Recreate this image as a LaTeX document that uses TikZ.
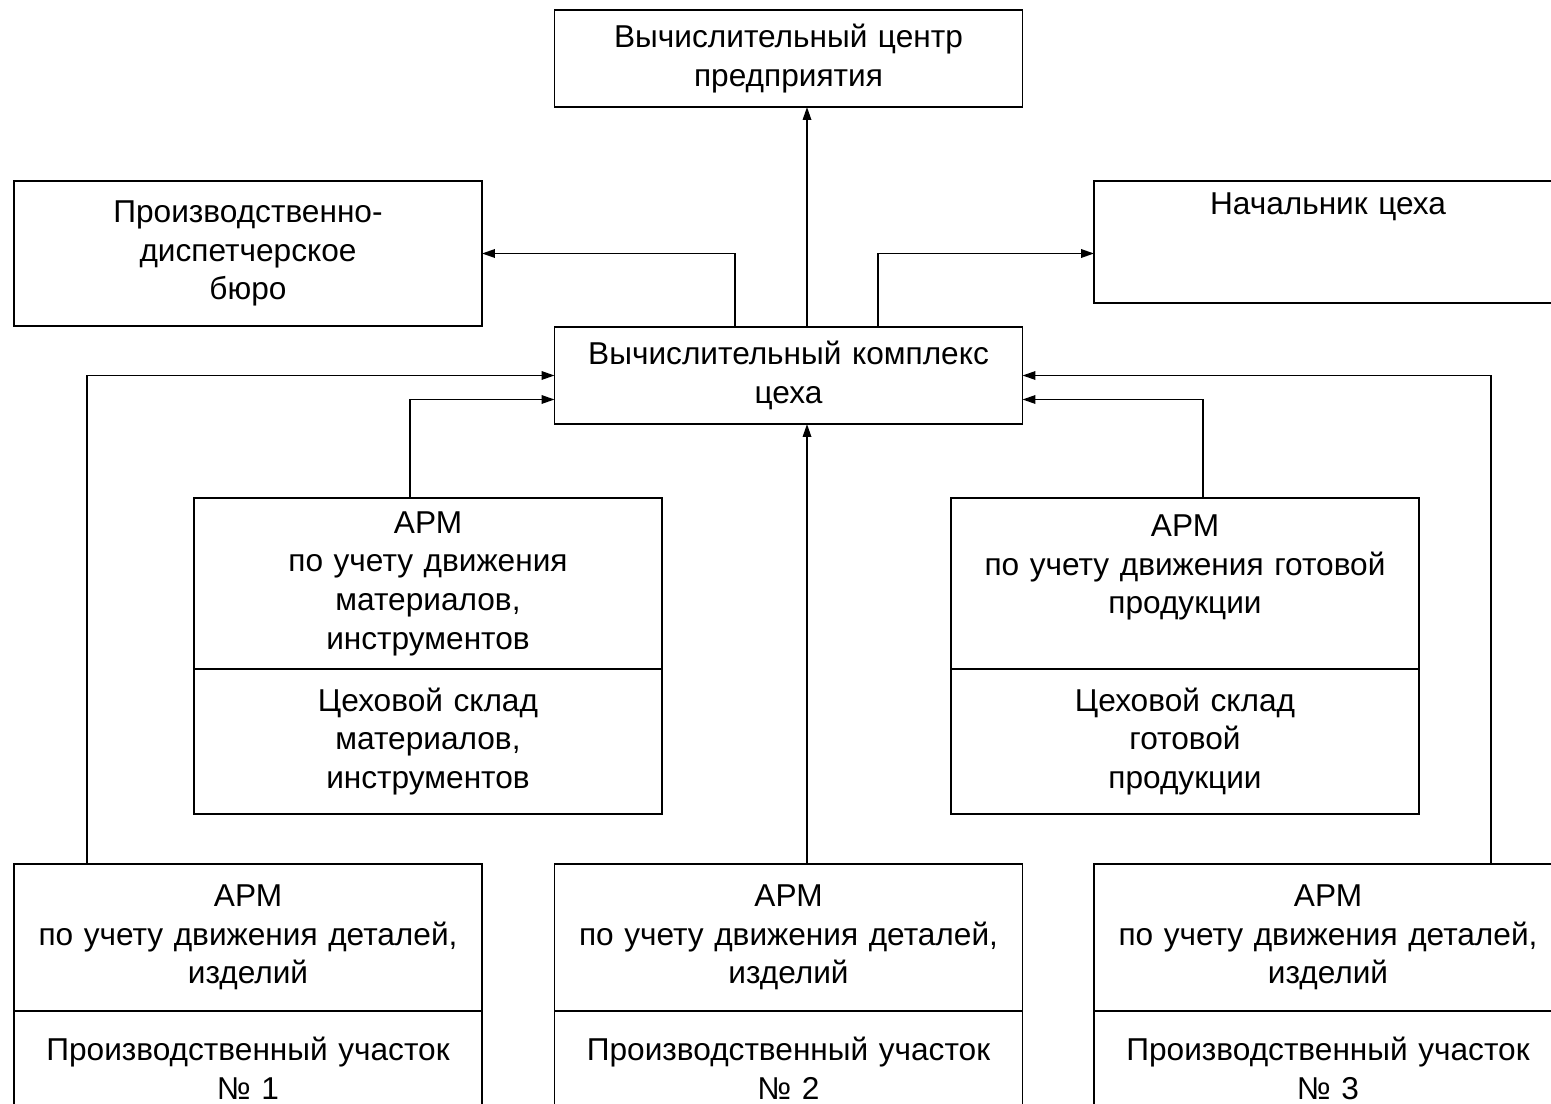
\documentclass[tikz,border=0pt]{standalone}
\usepackage{fontspec}
\setmainfont{Liberation Sans}
\usetikzlibrary{arrows.meta, positioning}
\newcommand{\boxfont}{\fontsize{18}{22}\selectfont}
\tikzset{
  box/.style={rectangle, draw=black, line width=1pt,
    text width=9.2cm, align=center, inner sep=0pt, outer sep=0pt,
    minimum width=9.36cm, font=\boxfont},
  arrow/.style={-{Triangle[length=0.26cm,width=0.17cm]}, line width=1pt},
  line/.style={line width=1pt}
}

\begin{document}
\begin{tikzpicture}[x=0.02cm, y=-0.02cm]
  \useasboundingbox (0,0) rectangle (1551,1104);
  \clip (0,0) rectangle (1551,1104);

  % upper level
  \node[box, minimum height=1.94cm] (vc) at (788.5,58.5) {Вычислительный центр\\предприятия};
  \node[box, minimum height=2.9cm] (pdb) at (248,253.5) {Производственно-\\диспетчерское\\бюро};
  \node[box, minimum height=2.44cm] (nc) at (1328,242) {Начальник цеха\\~\\~};
  \node[box, minimum height=1.94cm] (vk) at (788.5,375.5) {Вычислительный комплекс\\цеха};

  % stores
  \node[box, minimum height=3.42cm] (armmat) at (428,583.5) {АРМ\\по учету движения\\материалов,\\инструментов};
  \node[box, minimum height=2.9cm, below=0pt of armmat] (sklmat) {Цеховой склад\\материалов,\\инструментов};
  \node[box, minimum height=3.42cm] (armgot) at (1185,583.5) {АРМ\\по учету движения готовой\\продукции\\~};
  \node[box, minimum height=2.9cm, below=0pt of armgot] (sklgot) {Цеховой склад\\готовой\\продукции};

  % sections
  \node[box, minimum height=2.94cm] (arm1) at (248,937.5) {АРМ\\по учету движения деталей,\\изделий};
  \node[box, minimum height=2.3cm, below=0pt of arm1] (uch1) {Производственный участок\\№ 1};
  \node[box, minimum height=2.94cm] (arm2) at (788.5,937.5) {АРМ\\по учету движения деталей,\\изделий};
  \node[box, minimum height=2.3cm, below=0pt of arm2] (uch2) {Производственный участок\\№ 2};
  \node[box, minimum height=2.94cm] (arm3) at (1328,937.5) {АРМ\\по учету движения деталей,\\изделий};
  \node[box, minimum height=2.3cm, below=0pt of arm3] (uch3) {Производственный участок\\№ 3};

  \coordinate (mid) at (807,0);
  \coordinate (tl) at (735,0);
  \coordinate (tr) at (878,0);
  \coordinate (fl) at (87,0);
  \coordinate (fr) at (1491,0);

  % connectors
  \draw[arrow] (vk.north -| mid) -- (vc.south -| mid);
  \draw[arrow] (vk.north -| tl) |- (pdb.east);
  \draw[arrow] (vk.north -| tr) |- (nc.west |- pdb.east);
  \draw[arrow] (arm2.north -| mid) -- (vk.south -| mid);
  \draw[arrow] (arm1.north -| fl) |- (vk.west);
  \draw[arrow] ([xshift=-0.36cm]armmat.north) |- ([yshift=-0.48cm]vk.west);
  \draw[arrow] (arm3.north -| fr) |- (vk.east);
  \draw[arrow] ([xshift=0.36cm]armgot.north) |- ([yshift=-0.48cm]vk.east);
\end{tikzpicture}
\end{document}
